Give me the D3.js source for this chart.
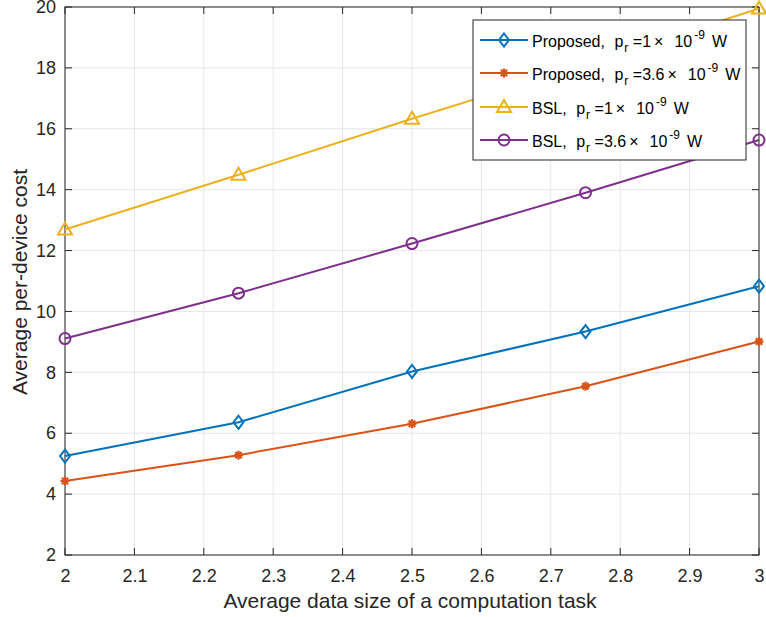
<!DOCTYPE html>
<html><head><meta charset="utf-8">
<script src="https://cdn.jsdelivr.net/npm/d3@7"></script>
<style>body{margin:0;background:#fff}svg{font-family:"Liberation Sans",Arial,sans-serif}</style>
</head><body>
<svg id="c" width="766" height="617"></svg>
<script>
const xValues = [2, 2.25, 2.5, 2.75, 3];
const proposed1 = [5.25, 6.36, 8.03, 9.34, 10.83];
const proposed36 = [4.43, 5.28, 6.31, 7.54, 9.01];
const bsl1 = [12.69, 14.49, 16.33, 18.1, 19.95];
const bsl36 = [9.11, 10.6, 12.23, 13.9, 15.63];
const xTicks = [2, 2.1, 2.2, 2.3, 2.4, 2.5, 2.6, 2.7, 2.8, 2.9, 3];
const yTicks = [2, 4, 6, 8, 10, 12, 14, 16, 18, 20];
const seriesNames = ["Proposed,", "Proposed,", "BSL,", "BSL,"];
const powers = ["1", "3.6", "1", "3.6"];

const colors = ["#0072BD", "#D95319", "#EDB120", "#7E2F8E"];
const markers = ["diamond", "asterisk", "triangle", "circle"];
const allSeries = [proposed1, proposed36, bsl1, bsl36];

const svg = d3.select("#c");
const L = 65, R = 759, T = 7, B = 555;
const x = d3.scaleLinear().domain([2, 3]).range([L, R]);
const y = d3.scaleLinear().domain([2, 20]).range([B, T]);
const txt = "#262626";

// grid
const g = svg.append("g");
g.selectAll(".gx").data(xTicks).join("line")
  .attr("x1", d => x(d)).attr("x2", d => x(d)).attr("y1", T).attr("y2", B)
  .attr("stroke", "#e6e6e6").attr("stroke-width", 1);
g.selectAll(".gy").data(yTicks).join("line")
  .attr("y1", d => y(d)).attr("y2", d => y(d)).attr("x1", L).attr("x2", R)
  .attr("stroke", "#e6e6e6").attr("stroke-width", 1);

// axes
const xAxis = d3.axisBottom(x).tickValues(xTicks).tickSize(0).tickFormat(d => d3.format("")(d));
const yAxis = d3.axisLeft(y).tickValues(yTicks).tickSize(0).tickPadding(9);
const ax = svg.append("g").attr("transform", `translate(0,${B})`).call(xAxis);
const ay = svg.append("g").attr("transform", `translate(${L},0)`).call(yAxis);
[ax, ay].forEach(a => {
  a.select(".domain").remove();
  a.selectAll("text").attr("fill", txt).style("font-size", "18px");
});
ax.selectAll("text").attr("dy", null).attr("y", 27);
// ticks inside on all sides
const tk = svg.append("g").attr("stroke", "#262626").attr("stroke-width", 1);
xTicks.forEach(d => {
  tk.append("line").attr("x1", x(d)).attr("x2", x(d)).attr("y1", B).attr("y2", B - 7);
  tk.append("line").attr("x1", x(d)).attr("x2", x(d)).attr("y1", T).attr("y2", T + 7);
});
yTicks.forEach(d => {
  tk.append("line").attr("y1", y(d)).attr("y2", y(d)).attr("x1", L).attr("x2", L + 7);
  tk.append("line").attr("y1", y(d)).attr("y2", y(d)).attr("x1", R).attr("x2", R - 7);
});
svg.append("rect").attr("x", L).attr("y", T).attr("width", R - L).attr("height", B - T)
  .attr("fill", "none").attr("stroke", "#262626").attr("stroke-width", 1);

// labels
svg.append("text").attr("x", 410).attr("y", 608).attr("text-anchor", "middle")
  .attr("fill", txt).style("font-size", "21px").text("Average data size of a computation task");
svg.append("text").attr("transform", `translate(27,282) rotate(-90)`).attr("text-anchor", "middle")
  .attr("fill", txt).style("font-size", "21px").text("Average per-device cost");

function drawMarker(sel, type, cx, cy, color) {
  if (type === "diamond") {
    sel.append("path").attr("d", `M${cx},${cy - 6.5}L${cx + 5},${cy}L${cx},${cy + 6.5}L${cx - 5},${cy}Z`)
      .attr("fill", "none").attr("stroke", color).attr("stroke-width", 2);
  } else if (type === "triangle") {
    sel.append("path").attr("d", `M${cx},${cy - 7}L${cx + 7},${cy + 5}L${cx - 7},${cy + 5}Z`)
      .attr("fill", "none").attr("stroke", color).attr("stroke-width", 2);
  } else if (type === "circle") {
    sel.append("circle").attr("cx", cx).attr("cy", cy).attr("r", 5.5)
      .attr("fill", "none").attr("stroke", color).attr("stroke-width", 2);
  } else {
    const r = 4.5, r2 = 3.2;
    let d = `M${cx - r},${cy}L${cx + r},${cy}M${cx},${cy - r}L${cx},${cy + r}` +
      `M${cx - r2},${cy - r2}L${cx + r2},${cy + r2}M${cx - r2},${cy + r2}L${cx + r2},${cy - r2}`;
    sel.append("path").attr("d", d).attr("fill", "none").attr("stroke", color).attr("stroke-width", 2.2);
  }
}

const line = d3.line().x(d => x(d[0])).y(d => y(d[1]));
allSeries.forEach((s, i) => {
  const pts = xValues.map((xv, j) => [xv, s[j]]);
  svg.append("path").attr("d", line(pts)).attr("fill", "none")
    .attr("stroke", colors[i]).attr("stroke-width", 2);
  const mg = svg.append("g");
  pts.forEach(p => drawMarker(mg, markers[i], x(p[0]), y(p[1]), colors[i]));
});

// legend
const lg = svg.append("g");
lg.append("rect").attr("x", 473).attr("y", 20).attr("width", 273).attr("height", 140)
  .attr("fill", "#fff").attr("stroke", "#262626").attr("stroke-width", 1);
const rowY = [40, 73, 107, 140];
seriesNames.forEach((n, i) => {
  const yy = rowY[i];
  lg.append("line").attr("x1", 480).attr("x2", 528).attr("y1", yy).attr("y2", yy)
    .attr("stroke", colors[i]).attr("stroke-width", 2);
  drawMarker(lg, markers[i], 504, yy, colors[i]);
  const t = lg.append("text").attr("x", 532).attr("y", yy + 6.5).attr("fill", "#000").style("font-size", "16px");
  t.append("tspan").text(n);
  t.append("tspan").attr("dx", 9.5).text("p");
  t.append("tspan").attr("dy", 5).attr("dx", 1).style("font-size", "12px").text("r");
  t.append("tspan").attr("dy", -5).attr("dx", 4.5).text("=" + powers[i]);
  t.append("tspan").attr("dx", 3).text("\u00d7");
  t.append("tspan").attr("dx", 11).text("10");
  t.append("tspan").attr("dy", -7.5).attr("dx", 2).style("font-size", "12px").text("-9");
  t.append("tspan").attr("dy", 7.5).attr("dx", 7).text("W");
});
</script>
</body></html>
